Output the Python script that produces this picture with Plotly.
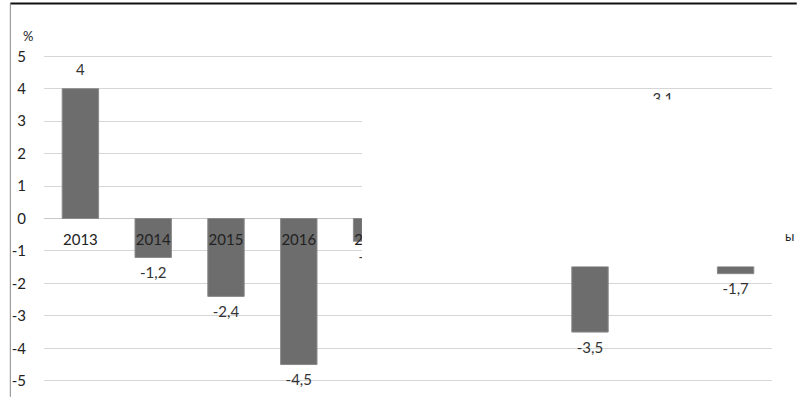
import plotly.graph_objects as go

years = ['2013', '2014', '2015', '2016', '2017', '2018', '2019', '2020', '2021', '2022']
values = [4, -1.2, -2.4, -4.5, -0.7, None, None, -3.5, 3.1, -1.7]
yticks = [5, 4, 3, 2, 1, 0, -1, -2, -3, -4, -5]

W, H = 799, 401
L, R, T, B = 37, 27, 53, 13
pw, ph = W - L - R, H - T - B


def px(x):
    return (x - L) / pw


def py(y):
    return (H - B - y) / ph


labels = ['' if v is None else str(v).replace('.', ',') for v in values]
label_y = [None if v is None else (v + 0.53 if v > 0 else v - 0.52) for v in values]

fig = go.Figure()
fig.add_bar(x=years, y=values,
            marker=dict(color='#6d6d6d', line=dict(color='#8a8a8a', width=1)),
            width=0.5, hoverinfo='y')
# value labels, kept as a trace so the white patch can hide them
fig.add_scatter(x=years, y=label_y, mode='text', text=labels,
                textposition='middle center',
                textfont=dict(family='Lato', size=15, color='#333333'),
                hoverinfo='skip', cliponaxis=False)
# category labels sit just under the zero line, like the original
fig.add_scatter(x=years, y=[-0.7] * len(years), mode='text', text=years,
                textposition='middle center',
                textfont=dict(family='Lato', size=15, color='#222222'),
                hoverinfo='skip', cliponaxis=False)

fig.update_layout(
    width=W, height=H,
    margin=dict(l=L, r=R, t=T, b=B),
    paper_bgcolor='white', plot_bgcolor='white',
    showlegend=False,
    bargap=0.5,
    xaxis=dict(showticklabels=False, showgrid=False, zeroline=False,
               range=[-0.5, 9.5], fixedrange=True),
    yaxis=dict(range=[-5.1, 5.1], tickvals=yticks,
               ticktext=[str(v) for v in yticks],
               gridcolor='#d6d6d6', gridwidth=1, zeroline=True,
               zerolinecolor='#c8c8c8', zerolinewidth=1,
               tickfont=dict(family='Lato', size=15, color='#222222'),
               ticks='', ticklabelstandoff=17, fixedrange=True),
    shapes=[
        # scan frame
        dict(type='line', xref='paper', yref='paper', x0=px(3), x1=px(797),
             y0=py(3), y1=py(3), line=dict(color='#111111', width=2)),
        dict(type='line', xref='paper', yref='paper', x0=px(3), x1=px(3),
             y0=py(3), y1=py(401), line=dict(color='#888888', width=1)),
        # white patch covering part of the original
        dict(type='rect', xref='paper', yref='paper', x0=px(358), x1=px(784),
             y0=py(269), y1=py(100), fillcolor='white', line=dict(width=0),
             layer='above'),
    ],
    annotations=[
        dict(text='%', xref='paper', yref='paper', x=px(21), y=py(36),
             xanchor='center', yanchor='middle', showarrow=False,
             font=dict(family='Lato', size=13, color='#222222')),
        dict(text='ы', xref='paper', yref='paper', x=px(790), y=py(238),
             xanchor='center', yanchor='middle', showarrow=False,
             font=dict(family='Lato', size=13, color='#222222')),
    ],
)

fig.write_html('out.html', config={'displayModeBar': False},
               post_script="document.body.style.margin='0';")
